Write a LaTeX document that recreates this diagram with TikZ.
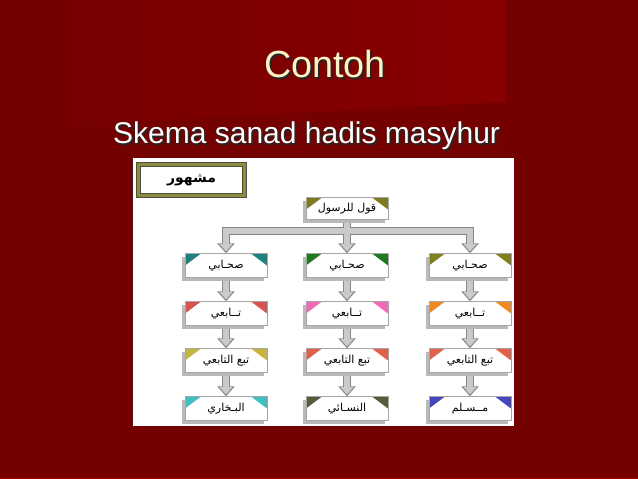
\documentclass[tikz,border=0pt]{standalone}
\usepackage{fontspec}
\setmainfont{Liberation Sans}
\newfontfamily\arabicfont[Script=Arabic]{DejaVu Sans}
\TeXXeTstate=1
\usetikzlibrary{arrows.meta,shadows,backgrounds}

\definecolor{slidered}{HTML}{740000}
\definecolor{panelred}{HTML}{880000}
\definecolor{titlecream}{HTML}{FFF3C4}
\definecolor{pipeedge}{HTML}{868686}
\definecolor{pipefill}{HTML}{CACACA}
\definecolor{frameolive}{HTML}{8E8A3C}
\definecolor{cOlive}{HTML}{7D7A1E}
\definecolor{cTeal}{HTML}{1F8080}
\definecolor{cGreen}{HTML}{1F7A1F}
\definecolor{cKhaki}{HTML}{80801F}
\definecolor{cRed}{HTML}{D9534F}
\definecolor{cPink}{HTML}{F06AB8}
\definecolor{cOrange}{HTML}{F08A1E}
\definecolor{cMustard}{HTML}{C8B43C}
\definecolor{cSalmon}{HTML}{E0604A}
\definecolor{cCyan}{HTML}{3CC0C0}
\definecolor{cDark}{HTML}{5A5A3A}
\definecolor{cBlue}{HTML}{4646C0}

% teks dengan bayangan
\newcommand{\bayang}[1]{\rlap{\kern2pt\raisebox{-2pt}{\textcolor{black!85}{#1}}}#1}

\begin{document}
\begin{tikzpicture}[x=1pt,y=-1pt,
    titletext/.style={anchor=base, text=titlecream, font=\fontsize{37.8}{42}\selectfont},
    subtext/.style={anchor=base west, text=white, font=\fontsize{30}{34}\selectfont, inner sep=0pt},
    judul/.style={draw=black!70, line width=0.7pt, double=frameolive, double distance=3.6pt,
      fill=white, minimum width=106pt, minimum height=31pt, inner sep=0pt,
      font=\arabicfont\fontsize{14}{16}\selectfont},
    rawi/.style={draw=gray!70, fill=white, minimum width=82pt, minimum height=24pt, inner sep=0pt,
      font=\arabicfont\fontsize{11}{12}\selectfont,
      drop shadow={shadow xshift=-3pt, shadow yshift=-3pt, fill=gray!55, opacity=1},
      path picture={
        \fill[#1] (path picture bounding box.north west) -- ++(16pt,0) -- ++(-16pt,-12pt) -- cycle;
        \fill[#1] (path picture bounding box.north east) -- ++(-16pt,0) -- ++(16pt,-12pt) -- cycle;
      }},
    pipeout/.style={draw=pipeedge, line width=8pt, -{Triangle[length=10pt,width=17pt]}},
    pipein/.style={draw=pipefill, line width=5.4pt, shorten >=1.8pt, -{Triangle[length=7.6pt,width=13pt]}},
  ]
  \useasboundingbox (0,0) rectangle (638,479);

  % judul slide
  \node[titletext] (title) at (325,77) {\bayang{Contoh}};
  \node[subtext] (sub) at (113,143) {\bayang{Skema sanad hadis masyhur}};

  % skema sanad
  \node[judul] (mashhur) at (191.5,180) {\bfseries\beginR مشهور\endR};
  \node[rawi=cOlive, minimum height=22pt] (qawl) at (347,208.5) {\beginR قول للرسول\endR};

  \node[rawi=cTeal] (sahabi1) at (226,265.5) {\beginR صحـابي\endR};
  \node[rawi=cGreen] (sahabi2) at (347,265.5) {\beginR صحـابي\endR};
  \node[rawi=cKhaki] (sahabi3) at (470,265.5) {\beginR صحـابي\endR};

  \node[rawi=cRed] (tabii1) at (226,313.5) {\beginR تــابعي\endR};
  \node[rawi=cPink] (tabii2) at (347,313.5) {\beginR تــابعي\endR};
  \node[rawi=cOrange] (tabii3) at (470,313.5) {\beginR تــابعي\endR};

  \node[rawi=cMustard] (tabtabii1) at (226,360.5) {\beginR تبع التابعي\endR};
  \node[rawi=cSalmon] (tabtabii2) at (347,360.5) {\beginR تبع التابعي\endR};
  \node[rawi=cSalmon] (tabtabii3) at (470,360.5) {\beginR تبع التابعي\endR};

  \node[rawi=cCyan] (perawi1) at (226,408.5) {\beginR البـخاري\endR};
  \node[rawi=cDark] (perawi2) at (347,408.5) {\beginR النسـائي\endR};
  \node[rawi=cBlue] (perawi3) at (470,408.5) {\beginR مــسـلم\endR};

  \coordinate (split) at (347,231);
  \coordinate (bar1) at (sahabi1 |- split);
  \coordinate (bar3) at (sahabi3 |- split);

  \begin{scope}[on background layer]
    \fill[slidered] (0,0) rectangle (638,479);
    \shade[left color=slidered!90!panelred, right color=panelred] (60,0) -- (506,0) -- (506,102) -- (60,125) -- cycle;
    \draw[red!45!slidered, line width=1pt] (0,478.5) -- (638,478.5);
    \fill[white] (133,158) rectangle (514,426);

    % panah
    \foreach \pass in {pipeout,pipein} {
      \draw[\pass, -, shorten >=0pt, line cap=rect] (bar1) -- (bar3);
      \draw[\pass, -, shorten >=0pt] (qawl.south) -- (split);
      \draw[\pass] (bar1) -- (sahabi1.north);
      \draw[\pass] (split) -- (sahabi2.north);
      \draw[\pass] (bar3) -- (sahabi3.north);
      \draw[\pass] (sahabi1.south) -- (tabii1.north);
      \draw[\pass] (sahabi2.south) -- (tabii2.north);
      \draw[\pass] (sahabi3.south) -- (tabii3.north);
      \draw[\pass] (tabii1.south) -- (tabtabii1.north);
      \draw[\pass] (tabii2.south) -- (tabtabii2.north);
      \draw[\pass] (tabii3.south) -- (tabtabii3.north);
      \draw[\pass] (tabtabii1.south) -- (perawi1.north);
      \draw[\pass] (tabtabii2.south) -- (perawi2.north);
      \draw[\pass] (tabtabii3.south) -- (perawi3.north);
    }
  \end{scope}
\end{tikzpicture}
\end{document}
